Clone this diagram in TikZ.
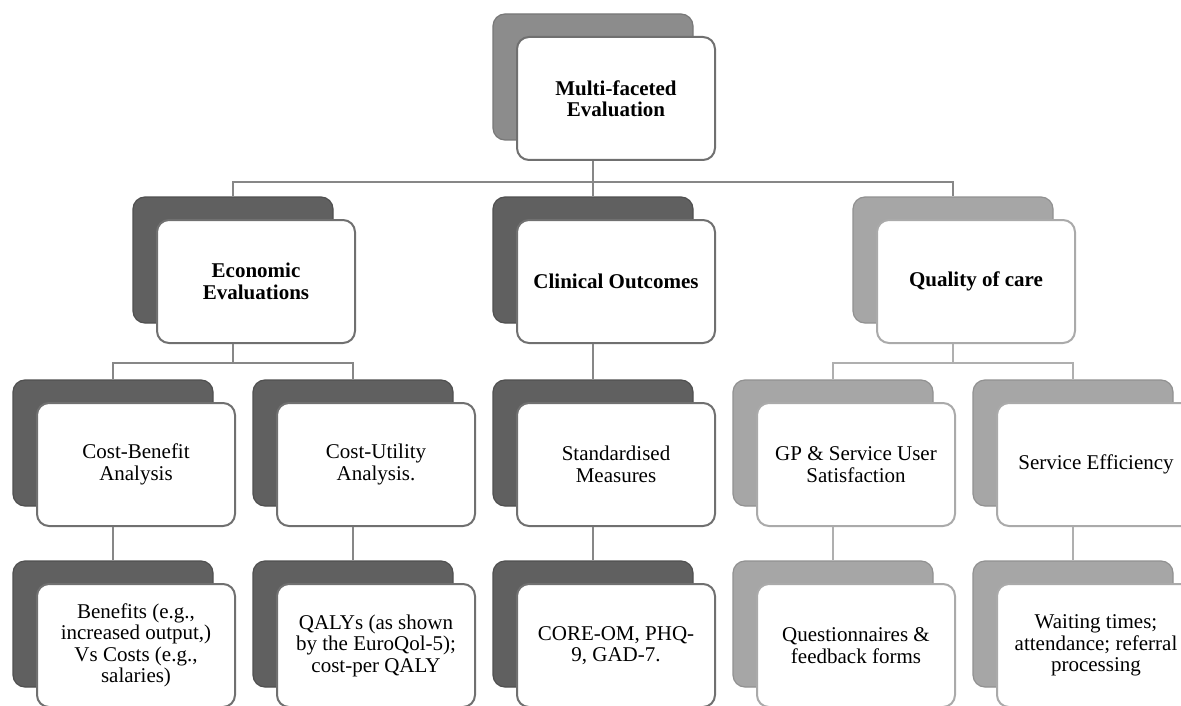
\documentclass[tikz,border=0pt]{standalone}
\usepackage{fontspec}
\setmainfont{Liberation Serif}
\definecolor{cardDark}{RGB}{96,96,96}
\definecolor{cardMid}{RGB}{140,140,140}
\definecolor{cardLight}{RGB}{166,166,166}
\definecolor{edgeDark}{RGB}{80,80,80}
\definecolor{edgeMid}{RGB}{120,120,120}
\definecolor{edgeLight}{RGB}{145,145,145}
\definecolor{frameDark}{RGB}{112,112,112}
\definecolor{frameLight}{RGB}{170,170,170}
\definecolor{lineGray}{RGB}{135,135,135}
\definecolor{lineLight}{RGB}{175,175,175}
\begin{document}
\begin{tikzpicture}[x=1pt, y=-1pt,
    every node/.style={rounded corners=12pt, inner sep=0pt, align=center,
      font=\fontsize{21}{21.5}\selectfont},
    back/.style={minimum width=200pt, minimum height=126pt, line width=1.2pt},
    front/.style={minimum width=198pt, minimum height=123pt, fill=white,
      draw=frameDark, line width=2pt},
    dark/.style={back, fill=cardDark, draw=edgeDark},
    mid/.style={back, fill=cardMid, draw=edgeMid},
    light/.style={back, fill=cardLight, draw=edgeLight},
    pale/.style={front, draw=frameLight},
    heading/.style={font=\fontsize{21}{21.5}\selectfont\bfseries},
    link/.style={draw=lineGray, line width=2pt},
    linkpale/.style={draw=lineLight, line width=2pt}]
  \useasboundingbox (0,0) rectangle (1181,706);

  % top
  \node[mid] (mfeB) at (593,77) {};
  \node[front, heading] (mfeF) at (616,98.5) {Multi-faceted\\Evaluation};

  % second row
  \node[dark] (ecoB) at (233,260) {};
  \node[front, heading] (ecoF) at (256,281.5) {Economic\\Evaluations};
  \node[dark] (cliB) at (593,260) {};
  \node[front, heading] (cliF) at (616,281.5) {Clinical Outcomes};
  \node[light] (qocB) at (953,260) {};
  \node[pale, heading] (qocF) at (976,281.5) {Quality of care};

  % third row
  \node[dark] (cbaB) at (113,443) {};
  \node[front] (cbaF) at (136,464.5) {Cost-Benefit\\Analysis};
  \node[dark] (cuaB) at (353,443) {};
  \node[front] (cuaF) at (376,464.5) {Cost-Utility\\Analysis.};
  \node[dark] (smB) at (593,443) {};
  \node[front] (smF) at (616,464.5) {Standardised\\Measures};
  \node[light] (gpB) at (833,443) {};
  \node[pale] (gpF) at (856,464.5) {GP \& Service User\\Satisfaction};
  \node[light] (seB) at (1073,443) {};
  \node[pale] (seF) at (1096,464.5) {Service Efficiency};

  % fourth row
  \node[dark] (bvcB) at (113,624) {};
  \node[front] (bvcF) at (136,645.5) {Benefits (e.g.,\\increased output,)\\Vs Costs (e.g.,\\salaries)};
  \node[dark] (qalyB) at (353,624) {};
  \node[front] (qalyF) at (376,645.5) {QALYs (as shown\\by the EuroQol-5);\\cost-per QALY};
  \node[dark] (coreB) at (593,624) {};
  \node[front] (coreF) at (616,645.5) {CORE-OM, PHQ-\\9, GAD-7.};
  \node[light] (qfB) at (833,624) {};
  \node[pale] (qfF) at (856,645.5) {Questionnaires \&\\feedback forms};
  \node[light] (wtB) at (1073,624) {};
  \node[pale] (wtF) at (1096,645.5) {Waiting times;\\attendance; referral\\processing};

  \coordinate (bus1) at (593,182);
  \coordinate (bus2) at (233,363);
  \coordinate (bus3) at (953,363);

  \draw[link] (mfeB.south |- mfeF.south) -- (bus1);
  \draw[link] (ecoB.north) |- (bus1) -| (qocB.north);
  \draw[link] (bus1) -- (cliB.north);

  \draw[link] (ecoB.south |- ecoF.south) -- (bus2);
  \draw[link] (cbaB.north) |- (bus2) -| (cuaB.north);
  \draw[link] (cliB.south |- cliF.south) -- (smB.north);
  \draw[linkpale] (qocB.south |- qocF.south) -- (bus3);
  \draw[linkpale] (gpB.north) |- (bus3) -| (seB.north);

  \draw[link] (cbaB.south |- cbaF.south) -- (bvcB.north);
  \draw[link] (cuaB.south |- cuaF.south) -- (qalyB.north);
  \draw[link] (smB.south |- smF.south) -- (coreB.north);
  \draw[linkpale] (gpB.south |- gpF.south) -- (qfB.north);
  \draw[linkpale] (seB.south |- seF.south) -- (wtB.north);
\end{tikzpicture}
\end{document}
